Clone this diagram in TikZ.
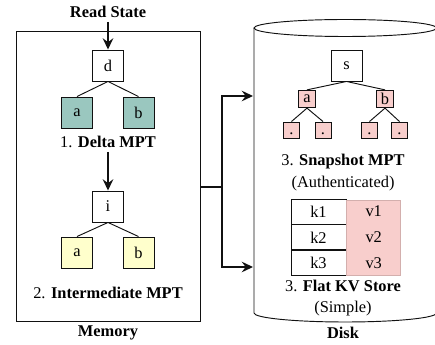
\documentclass[tikz,border=0pt]{standalone}
\usepackage{fontspec}
\setmainfont{Liberation Serif}
\usetikzlibrary{positioning,arrows.meta,calc}
\definecolor{deltaTeal}{HTML}{9AC7BF}
\definecolor{interYellow}{HTML}{FFFFCC}
\definecolor{snapPink}{HTML}{F8CECC}
\definecolor{lineDark}{HTML}{111111}
\newcommand{\figfont}{\fontsize{14}{16}\selectfont}

\begin{document}
\begin{tikzpicture}[
  x=0.03cm, y=-0.03cm,
  flow/.style={-{Stealth[length=3.4mm, width=3.2mm, inset=1.2mm]}, line width=1.2pt, draw=lineDark},
  wire/.style={line width=1.2pt, draw=lineDark},
  edge/.style={line width=0.8pt, draw=lineDark},
  trie/.style={
    rectangle,
    draw=lineDark,
    fill=#1,
    line width=0.8pt,
    minimum size=0.93cm,
    inner sep=0pt,
    font=\figfont
  },
  trie/.default=white,
  small trie/.style={trie=#1, minimum size=0.52cm},
  leaf/.style={trie=#1, minimum size=0.48cm, text height=9pt, text depth=2pt},
  kcell/.style={
    rectangle,
    draw=lineDark,
    line width=0.8pt,
    minimum width=1.65cm,
    minimum height=0.75cm,
    inner sep=0pt,
    font=\figfont
  },
  title/.style={font=\figfont\bfseries},
  caption/.style={font=\figfont}
]
  \useasboundingbox (0,0) rectangle (435,345);

  % Memory side
  \node[draw=lineDark, line width=0.8pt, minimum width=5.52cm, minimum height=8.7cm] (memory) at (108,176) {};
  \node[title] (read) at (108,12) {Read State};
  \node[title] (memLbl) at (108,333) {Memory};

  \node[trie] (d) at (108,65.5) {d};
  \node[trie=deltaTeal] (dA) at (77,112.5) {a};
  \node[trie=deltaTeal] (dB) at (138.5,112.5) {b};
  \node[caption] (deltaLbl) at (108,142) {1. \textbf{Delta MPT}};

  \node[trie] (i) at (108,206.5) {i};
  \node[trie=interYellow] (iA) at (77,252.5) {a};
  \node[trie=interYellow] (iB) at (138.5,252.5) {b};
  \node[caption] (interLbl) at (108,293) {2. \textbf{Intermediate MPT}};

  \draw[flow] (read.south) -- (d.north);
  \draw[edge] (d.south) -- (dA.north);
  \draw[edge] (d.south) -- (dB.north);
  \draw[flow] (deltaLbl.south) -- (i.north);
  \draw[edge] (i.south) -- (iA.north);
  \draw[edge] (i.south) -- (iB.north);

  % Disk cylinder
  \draw[edge] (254,28) -- (254,313) arc[start angle=180, end angle=360, x radius=2.7375cm, y radius=0.27cm] -- (436.5,28);
  \draw[edge] (345.25,28) ellipse [x radius=2.7375cm, y radius=0.255cm];
  \node[title] (diskLbl) at (343,333) {Disk};

  % Snapshot MPT
  \node[trie] (s) at (346.5,65.5) {s};
  \node[small trie=snapPink] (sA) at (307,99) {a};
  \node[small trie=snapPink] (sB) at (385,99) {b};
  \node[leaf=snapPink] (sA1) at (291.5,130) {.};
  \node[leaf=snapPink] (sA2) at (323,130) {.};
  \node[leaf=snapPink] (sB1) at (369.5,130) {.};
  \node[leaf=snapPink] (sB2) at (399.5,130) {.};
  \node[caption] (snapLbl) at (343,162) {3. \textbf{Snapshot MPT}};
  \node[caption] (authLbl) at (343,184) {(Authenticated)};

  \draw[edge] (s.south) -- (sA.north);
  \draw[edge] (s.south) -- (sB.north);
  \foreach \p/\c in {sA/sA1, sA/sA2, sB/sB1, sB/sB2}
    \draw[edge] (\p.south) -- (\c.north);

  % Flat KV store
  \node[kcell] (k1) at (318.5,211.5) {k1};
  \node[kcell, below=0pt of k1] (k2) {k2};
  \node[kcell, below=0pt of k2] (k3) {k3};
  \node[rectangle, fill=snapPink, draw=snapPink!85!black, line width=0.4pt,
        minimum width=1.62cm, minimum height=2.25cm, anchor=west] (vals) at (k2.east) {};
  \foreach \r in {1,2,3}
    \node[caption] at (vals.center |- k\r) {v\r};
  \node[caption] (kvLbl) at (343,286) {3. \textbf{Flat KV Store}};
  \node[caption] (simpleLbl) at (343,309) {(Simple)};

  % Memory to disk
  \coordinate (hub) at (222,187);
  \coordinate (snapIn) at (253,96);
  \coordinate (kvIn) at (253,267);
  \draw[wire] (memory.east |- hub) -- (hub);
  \draw[flow] (hub) |- (snapIn);
  \draw[flow] (hub) |- (kvIn);
\end{tikzpicture}
\end{document}
